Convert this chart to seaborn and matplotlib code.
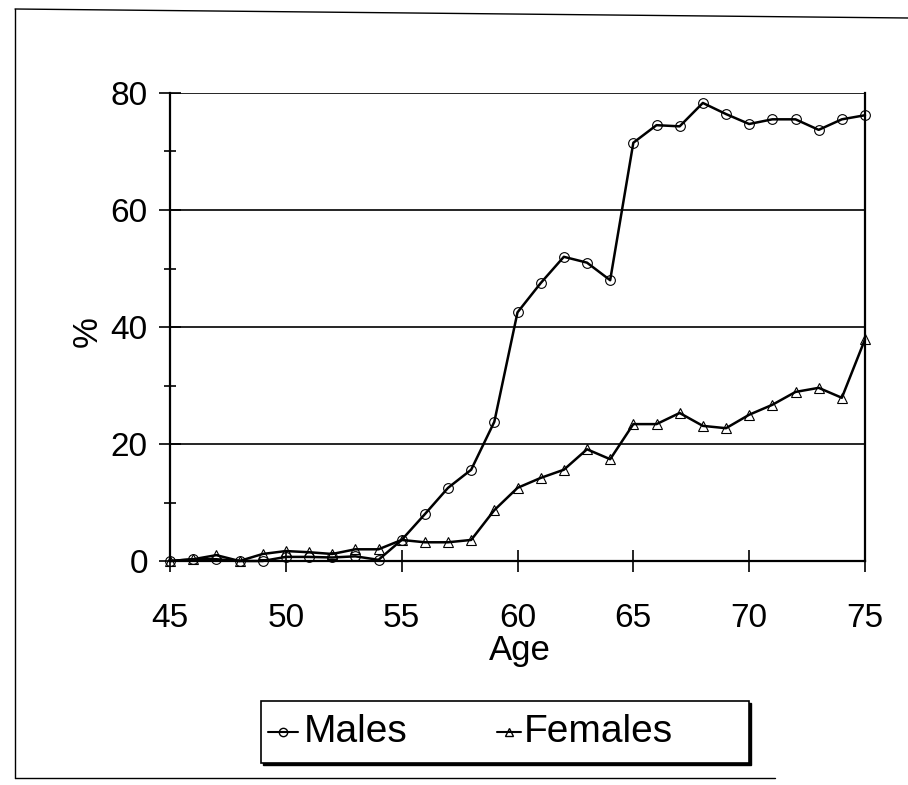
import numpy as np
import pandas as pd
import matplotlib
matplotlib.use("Agg")
import matplotlib.pyplot as plt
from matplotlib.patches import Rectangle
import seaborn as sns

# Data
ages = list(range(45, 76))
males = [0.0, 0.3, 0.3, 0.0, 0.0, 0.7, 0.7, 0.6, 0.8, 0.2,
         3.6, 8.0, 12.5, 15.6, 23.8, 42.5, 47.5, 52.0, 51.0, 48.0,
         71.5, 74.5, 74.3, 78.3, 76.4, 74.7, 75.5, 75.5, 73.7, 75.5, 76.2]
females = [0.0, 0.3, 1.0, 0.0, 1.2, 1.7, 1.5, 1.2, 2.0, 2.0,
           3.6, 3.2, 3.2, 3.6, 8.7, 12.5, 14.2, 15.6, 19.1, 17.4,
           23.4, 23.4, 25.3, 23.1, 22.7, 25.0, 26.7, 28.9, 29.6, 27.9, 37.9]

df = pd.DataFrame({"Age": ages * 2,
                   "value": males + females,
                   "sex": ["Males"] * len(ages) + ["Females"] * len(ages)})

sns.set_style("white")
plt.rcParams["font.family"] = ["Liberation Sans", "DejaVu Sans"]
plt.rcParams["text.color"] = "black"
plt.rcParams["axes.labelcolor"] = "black"
plt.rcParams["xtick.color"] = "black"
plt.rcParams["ytick.color"] = "black"

fig = plt.figure(figsize=(9.08, 7.85), dpi=100)
ax = fig.add_axes([170 / 908, 1 - 561 / 785, 695 / 908, 468 / 785])

sns.lineplot(data=df, x="Age", y="value", hue="sex", style="sex",
             markers={"Males": "o", "Females": "^"}, dashes=False,
             palette={"Males": "black", "Females": "black"},
             markersize=7, markerfacecolor="none", markeredgecolor="black",
             markeredgewidth=0.8, linewidth=1.8, ax=ax, legend=False)
for line in ax.lines:
    line.set_clip_on(False)

ax.set_xlim(45, 75)
ax.set_ylim(0, 80)
ax.set_xticks(range(45, 76, 5))
ax.set_yticks(range(0, 81, 20))
ax.set_yticks(range(10, 80, 20), minor=True)
ax.yaxis.grid(True, color="black", linewidth=1.2)
ax.tick_params(axis="both", which="both", direction="inout", bottom=True, left=True,
               labelsize=24, width=1.2)
ax.tick_params(axis="both", which="major", length=16)
ax.tick_params(axis="y", which="minor", length=8)
ax.tick_params(axis="x", pad=22)
ax.tick_params(axis="y", pad=8)
for side in ["left", "bottom", "right", "top"]:
    ax.spines[side].set_visible(side in ["left", "bottom", "right"])
    ax.spines[side].set_color("black")
    ax.spines[side].set_linewidth(1.6)

ax.set_xlabel("Age", fontsize=25)
ax.xaxis.set_label_coords((520 - 170) / 695, -(634 - 561) / 468)
ax.set_ylabel("%", fontsize=25)
ax.yaxis.set_label_coords((104 - 170) / 695, (561 - 332) / 468)

# Legend box drawn as in the reference
lw, lh = 488 / 908, 62 / 785
lx, ly = 261 / 908, 1 - 763 / 785
fig.patches.append(Rectangle((lx + 0.002, ly - 0.003), lw, lh, transform=fig.transFigure,
                             facecolor="black", edgecolor="black"))
fig.patches.append(Rectangle((lx, ly), lw, lh, transform=fig.transFigure,
                             facecolor="white", edgecolor="black", linewidth=1.2))
for name, mk, x0, x1, tx in [("Males", "o", 268, 298, 304), ("Females", "^", 497, 521, 524)]:
    yy = ly + lh / 2
    fig.add_artist(plt.Line2D([x0 / 908, x1 / 908], [yy, yy], color="black", linewidth=1.5,
                              transform=fig.transFigure))
    fig.add_artist(plt.Line2D([(x0 + x1) / 2 / 908], [yy], marker=mk, markersize=6,
                              markerfacecolor="none", markeredgecolor="black",
                              transform=fig.transFigure))
    fig.text(tx / 908, yy, name, fontsize=28, va="center", ha="left")

# Outer frame (left, top and bottom edges visible in the reference)
fx0, fy_top, fy_bot = 15 / 908, 1 - 9 / 785, 1 - 778 / 785
fig.add_artist(plt.Line2D([fx0, fx0], [fy_bot, fy_top], color="black", linewidth=1.0,
                          transform=fig.transFigure))
fig.add_artist(plt.Line2D([fx0, 1.0], [fy_top, 1 - 18 / 785], color="black", linewidth=1.0,
                          transform=fig.transFigure))
fig.add_artist(plt.Line2D([fx0, 775 / 908], [fy_bot, fy_bot], color="black", linewidth=1.0,
                          transform=fig.transFigure))

fig.savefig("out.png", dpi=100)
